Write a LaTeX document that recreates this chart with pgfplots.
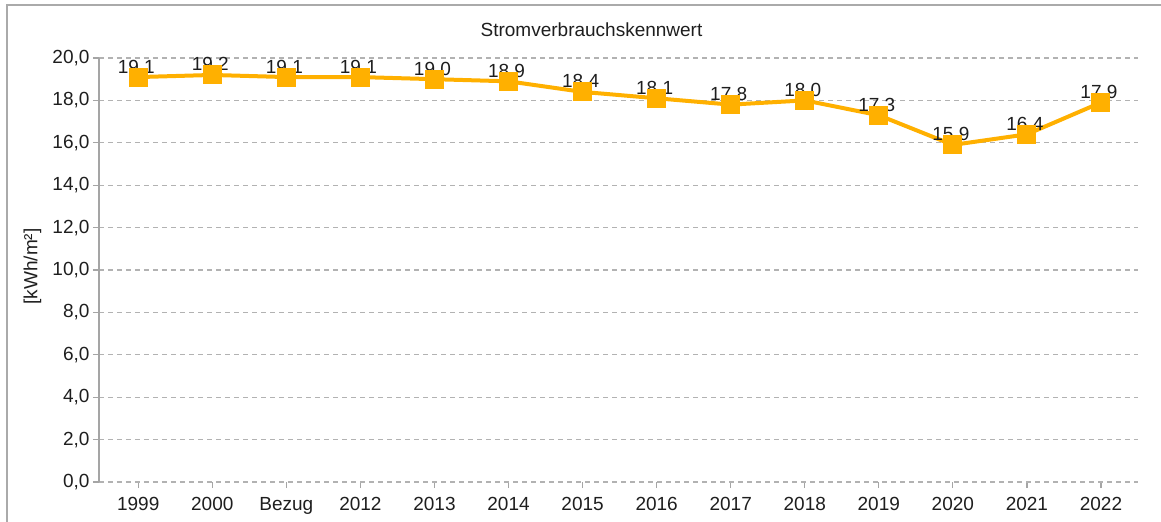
\documentclass[border=0pt]{standalone}
\usepackage{fontspec}
\setmainfont{Liberation Sans}
\usepackage{pgfplots}
\pgfplotsset{compat=1.18}
\definecolor{lineorange}{RGB}{255,176,0}
\definecolor{gridgray}{RGB}{178,178,178}
\definecolor{axgray}{RGB}{165,165,165}
\definecolor{framegray}{RGB}{170,170,170}
\definecolor{txt}{RGB}{30,30,30}
\begin{document}
\begin{tikzpicture}[font=\fontsize{19bp}{23bp}\selectfont]
\useasboundingbox (-99bp,-40bp) rectangle (1062bp,482bp);
\draw[framegray, line width=2bp] (-92bp,-60bp) -- (-92bp,477bp) -- (1100bp,477bp);
\node[anchor=base, text=txt, inner sep=0pt] at (492.5bp,445bp) {Stromverbrauchskennwert};
\begin{axis}[
  at={(0bp,0bp)}, anchor=south west,
  scale only axis, width=1039bp, height=424bp,
  xmin=-0.53, xmax=13.5, ymin=0, ymax=20,
  axis x line*=bottom, axis y line*=left,
  x axis line style={gridgray, dash pattern=on 5bp off 4bp, line width=1.3bp},
  y axis line style={axgray, line width=1.5bp},
  xtick={0,...,13},
  xticklabels={1999,2000,Bezug,2012,2013,2014,2015,2016,2017,2018,2019,2020,2021,2022},
  ytick={0,2,...,20},
  ymajorgrids,
  major grid style={gridgray, dash pattern=on 5bp off 4bp, line width=1.3bp},
  tick align=outside, major tick length=6bp,
  every tick/.style={axgray, line width=1.2bp},
  tick label style={text=txt, font=\fontsize{19bp}{23bp}\selectfont},
  xticklabel style={yshift=-6bp},
  ylabel={[kWh/m²]},
  ylabel style={at={(axis description cs:0,0.5)}, anchor=center, xshift=3.5bp, yshift=66.5bp, text=txt, font=\fontsize{19bp}{23bp}\selectfont},
  /pgf/number format/use comma,
  /pgf/number format/fixed,
  /pgf/number format/fixed zerofill,
  /pgf/number format/precision=1,
  /pgf/number format/assume math mode=true,
]
\addplot[draw=none, mark=none, nodes near coords,
  every node near coord/.append style={anchor=base, yshift=4bp, xshift=-2bp, text=txt, font=\fontsize{19bp}{23bp}\selectfont}]
  coordinates {(0,19.1) (1,19.2) (2,19.1) (3,19.1) (4,19.0) (5,18.9) (6,18.4) (7,18.1) (8,17.8) (9,18.0) (10,17.3) (11,15.9) (12,16.4) (13,17.9)};
\addplot[lineorange, line width=4bp, mark=square*, mark size=7.5bp, mark options={solid, fill=lineorange, draw=none}]
  coordinates {(0,19.1) (1,19.2) (2,19.1) (3,19.1) (4,19.0) (5,18.9) (6,18.4) (7,18.1) (8,17.8) (9,18.0) (10,17.3) (11,15.9) (12,16.4) (13,17.9)};
\end{axis}
\end{tikzpicture}
\end{document}
